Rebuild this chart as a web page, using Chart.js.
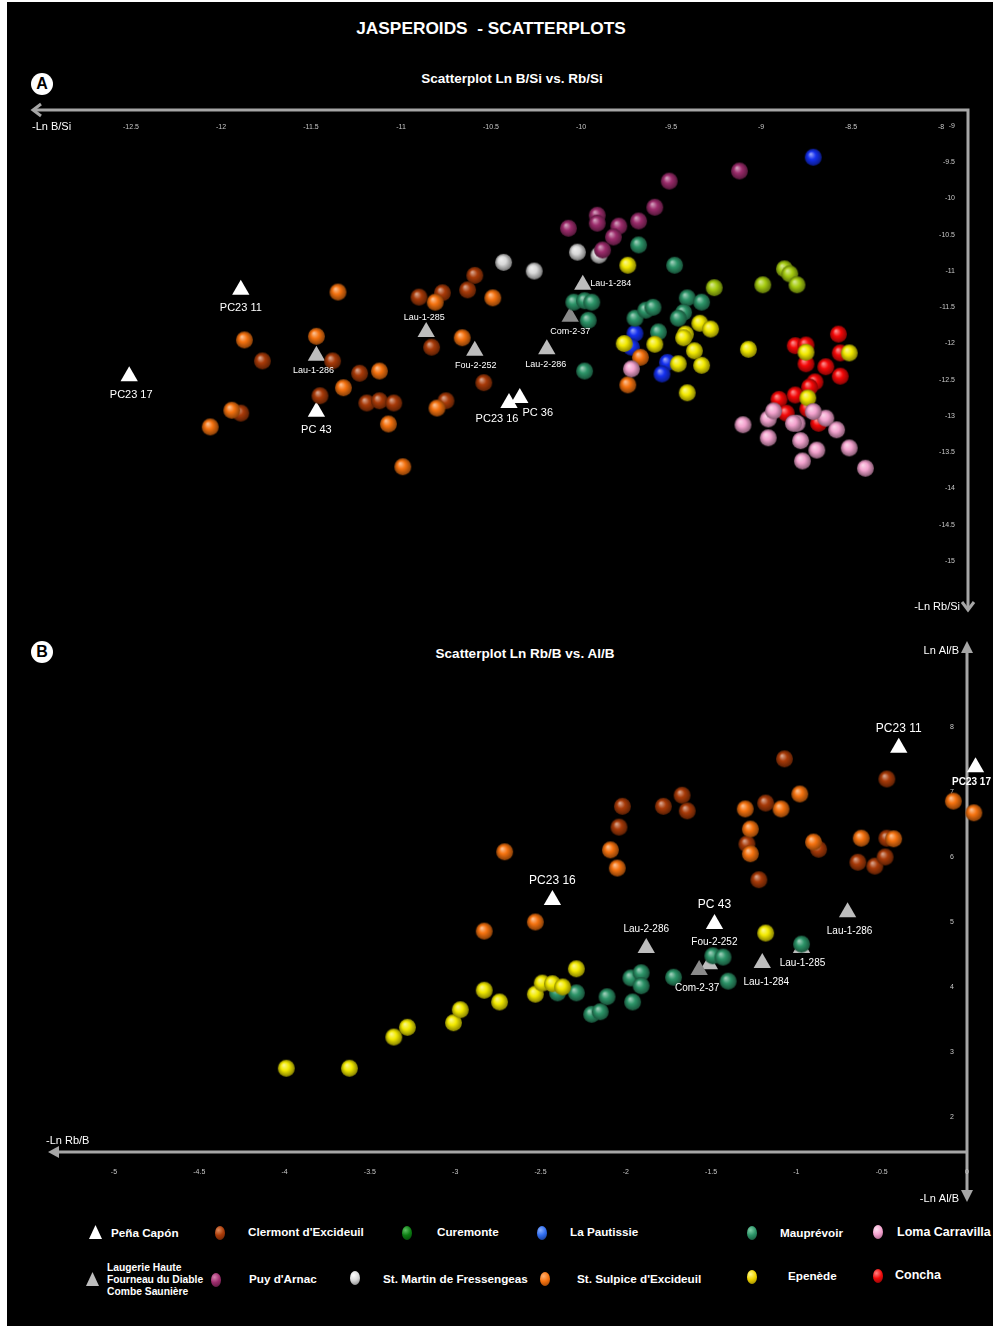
<!DOCTYPE html>
<html lang="en">
<head>
  <meta charset="UTF-8">
  <title>Jasperoids - Scatterplots</title>
  <script src="https://cdn.jsdelivr.net/npm/chart.js"></script>
  <style>
    body { margin: 0; background: #fff; font-family: "Liberation Sans", Arial, sans-serif; }
    #frame { position: absolute; left: 7px; top: 2px; width: 986px; height: 1324px; background: #000; }
    .abs { position: absolute; color: #fff; font-weight: bold; white-space: pre; }
    .title { left: 0; width: 982px; text-align: center; }
    .badge { width: 22px; height: 22px; border-radius: 50%; background: #fff; color: #000;
             font-size: 16px; line-height: 22px; text-align: center; }
    .ball { position: absolute; width: 10px; height: 14px; border-radius: 50%; }
    .tri { position: absolute; width: 13px; height: 14px; clip-path: polygon(50% 0, 100% 100%, 0 100%); }
    .leg { font-size: 11.7px; line-height: 14px; }
    canvas { position: absolute; left: 0; }
  </style>
</head>
<body>
  <div id="frame"></div>
  <div class="abs title" style="top:18px; font-size:17.3px;">JASPEROIDS  - SCATTERPLOTS</div>

  <div class="abs badge" style="left:31px; top:73px;">A</div>
  <div class="abs" style="left:0; width:1024px; text-align:center; top:71px; font-size:13.5px;">Scatterplot Ln B/Si vs. Rb/Si</div>
  <div class="abs badge" style="left:31px; top:641px;">B</div>
  <div class="abs" style="left:0; width:1050px; text-align:center; top:646px; font-size:13.5px;">Scatterplot Ln Rb/B vs. Al/B</div>

  <canvas id="chartA" width="995" height="540" style="top:90px;"></canvas>
  <canvas id="chartB" width="995" height="590" style="top:630px;"></canvas>

  <!-- legend row 1 -->
  <div class="tri" style="left:89px; top:1225px; background:#fff;"></div>
  <div class="abs leg" style="left:111px; top:1226px;">Peña Capón</div>
  <div class="ball" style="left:215px; top:1226px; background:radial-gradient(circle at 35% 30%, #e08a5a, #a83a08 45%, #5a1e04);"></div>
  <div class="abs leg" style="left:248px; top:1225px;">Clermont d'Excideuil</div>
  <div class="ball" style="left:402px; top:1226px; background:radial-gradient(circle at 35% 30%, #5cc060, #0b7d12 45%, #053d08);"></div>
  <div class="abs leg" style="left:437px; top:1225px;">Curemonte</div>
  <div class="ball" style="left:537px; top:1226px; background:radial-gradient(circle at 35% 30%, #8ab0ff, #2f6df0 45%, #12307a);"></div>
  <div class="abs leg" style="left:570px; top:1225px;">La Pautissie</div>
  <div class="ball" style="left:747px; top:1226px; background:radial-gradient(circle at 35% 30%, #7fcfa8, #2c9468 45%, #144a33);"></div>
  <div class="abs leg" style="left:780px; top:1226px;">Mauprévoir</div>
  <div class="ball" style="left:873px; top:1225px; background:radial-gradient(circle at 35% 30%, #fde0ef, #f4a3cf 45%, #a05a80);"></div>
  <div class="abs leg" style="left:897px; top:1225px; font-size:12.5px;">Loma Carravilla</div>

  <!-- legend row 2 -->
  <div class="tri" style="left:86px; top:1272px; background:#bdbdbd;"></div>
  <div class="abs" style="left:107px; top:1262px; font-size:10.3px; line-height:12px;">Laugerie Haute
Fourneau du Diable
Combe Saunière</div>
  <div class="ball" style="left:211px; top:1273px; background:radial-gradient(circle at 35% 30%, #d880b0, #9c2c6c 45%, #4e1636);"></div>
  <div class="abs leg" style="left:249px; top:1272px;">Puy d'Arnac</div>
  <div class="ball" style="left:350px; top:1271px; background:radial-gradient(circle at 35% 30%, #ffffff, #d9d9d9 45%, #7a7a7a);"></div>
  <div class="abs leg" style="left:383px; top:1272px;">St. Martin de Fressengeas</div>
  <div class="ball" style="left:540px; top:1272px; background:radial-gradient(circle at 35% 30%, #ffb070, #f5720f 45%, #8a3c05);"></div>
  <div class="abs leg" style="left:577px; top:1272px;">St. Sulpice d'Excideuil</div>
  <div class="ball" style="left:747px; top:1270px; background:radial-gradient(circle at 35% 30%, #fffa90, #f0d400 45%, #8a7a00);"></div>
  <div class="abs leg" style="left:788px; top:1269px;">Epenède</div>
  <div class="ball" style="left:873px; top:1269px; background:radial-gradient(circle at 35% 30%, #ff8080, #f00a0a 45%, #7a0505);"></div>
  <div class="abs leg" style="left:895px; top:1268px; font-size:12.5px;">Concha</div>

  <script>
    // ---------- tick labels ----------
    const ticksAX = [-12.5, -12, -11.5, -11, -10.5, -10, -9.5, -9, -8.5, -8];
    const ticksAY = [-9, -9.5, -10, -10.5, -11, -11.5, -12, -12.5, -13, -13.5, -14, -14.5, -15];
    const ticksBX = [-5, -4.5, -4, -3.5, -3, -2.5, -2, -1.5, -1, -0.5, 0];
    const ticksBY = [2, 3, 4, 5, 6, 7, 8];

    // ---------- A: Ln B/Si (x) vs Ln Rb/Si (y) ----------
    const penaA = [
      {name: 'PC23 11', x: -11.89, y: -11.26},
      {name: 'PC23 17', x: -12.51, y: -12.45},
      {name: 'PC 43', x: -11.47, y: -12.94},
      {name: 'PC23 16', x: -10.40, y: -12.82},
      {name: 'PC 36', x: -10.34, y: -12.75}
    ];
    const laugerieA = [
      {name: 'Lau-1-286', x: -11.47, y: -12.17},
      {name: 'Lau-1-285', x: -10.86, y: -11.84},
      {name: 'Fou-2-252', x: -10.59, y: -12.10},
      {name: 'Lau-2-286', x: -10.19, y: -12.08},
      {name: 'Com-2-37', x: -10.06, y: -11.63},
      {name: 'Lau-1-284', x: -9.99, y: -11.19}
    ];
    const clermontA = [[-11.77,-12.24],[-11.89,-12.96],[-11.38,-12.24],[-11.23,-12.41],[-11.45,-12.72],[-11.19,-12.82],
      [-11.12,-12.79],[-11.04,-12.82],[-10.90,-11.36],[-10.77,-11.30],[-10.59,-11.06],[-10.63,-11.26],[-10.83,-12.05],
      [-10.54,-12.54],[-10.75,-12.79]];
    const sulpiceA = [[-11.35,-11.29],[-11.87,-11.95],[-11.47,-11.90],[-11.12,-12.38],[-11.32,-12.61],[-11.94,-12.92],
      [-12.06,-13.15],[-11.07,-13.11],[-10.99,-13.70],[-10.81,-11.43],[-10.49,-11.37],[-10.66,-11.92],[-10.80,-12.89],
      [-9.67,-12.19],[-9.74,-12.57]];
    const martinA = [[-10.43,-10.88],[-10.26,-11.00],[-10.02,-10.74],[-9.90,-10.78]];
    const puyA = [[-9.12,-9.62],[-9.51,-9.76],[-9.59,-10.12],[-9.91,-10.23],[-9.91,-10.34],[-10.07,-10.41],[-9.79,-10.38],
      [-9.68,-10.31],[-9.82,-10.53],[-9.88,-10.71]];
    const pautissieA = [[-8.71,-9.43],[-9.70,-11.86],[-9.72,-12.05],[-9.52,-12.26],[-9.55,-12.42]];
    const mauprevoirA = [[-9.68,-10.64],[-9.48,-10.92],[-10.04,-11.43],[-9.98,-11.41],[-9.94,-11.43],[-9.96,-11.68],
      [-9.70,-11.65],[-9.64,-11.54],[-9.60,-11.50],[-9.41,-11.37],[-9.33,-11.43],[-9.43,-11.57],[-9.46,-11.65],
      [-9.57,-11.84],[-9.98,-12.38]];
    const epenedeA = [[-9.74,-10.92],[-9.34,-11.72],[-9.28,-11.80],[-9.42,-11.87],[-9.43,-11.92],[-9.07,-12.08],
      [-9.37,-12.10],[-9.59,-12.01],[-9.46,-12.28],[-9.33,-12.30],[-9.41,-12.68],[-8.75,-12.12],[-8.51,-12.13],
      [-8.74,-12.75],[-9.76,-12.00]];
    const curemonteA = [[-9.26,-11.23],[-8.99,-11.19],[-8.87,-10.97],[-8.84,-11.04],[-8.80,-11.19]];
    const lomaA = [[-9.72,-12.35],[-9.10,-13.12],[-8.96,-13.04],[-8.93,-12.93],[-8.96,-13.30],[-8.80,-13.10],
      [-8.78,-13.34],[-8.77,-13.62],[-8.69,-13.47],[-8.64,-13.03],[-8.58,-13.19],[-8.51,-13.44],[-8.42,-13.72],
      [-8.71,-12.94],[-8.82,-13.10]];
    const conchaA = [[-8.57,-11.87],[-8.81,-12.03],[-8.75,-12.02],[-8.75,-12.28],[-8.64,-12.32],[-8.56,-12.45],
      [-8.56,-12.13],[-8.70,-12.53],[-8.73,-12.60],[-8.81,-12.71],[-8.90,-12.77],[-8.86,-12.96],[-8.74,-12.90],
      [-8.68,-13.10]];

    // ---------- B: Ln Rb/B (x) vs Ln Al/B (y) ----------
    const penaB = [
      {name: 'PC23 11', x: -0.40, y: 7.68},
      {name: 'PC23 17', x: 0.05, y: 7.38},
      {name: 'PC23 16', x: -2.43, y: 5.34},
      {name: 'PC 43', x: -1.48, y: 4.97}
    ];
    const laugerieB = [
      {name: 'Lau-2-286', x: -1.88, y: 4.60},
      {name: 'Fou-2-252', x: -1.51, y: 4.35},
      {name: 'Com-2-37', x: -1.57, y: 4.26},
      {name: 'Lau-1-284', x: -1.20, y: 4.37},
      {name: 'Lau-1-285', x: -0.97, y: 4.60},
      {name: 'Lau-1-286', x: -0.70, y: 5.15}
    ];
    const epenedeB = [[-3.99,2.75],[-3.62,2.75],[-3.36,3.23],[-3.28,3.38],[-3.01,3.45],[-2.97,3.65],[-2.83,3.95],
      [-2.74,3.77],[-2.53,3.89],[-2.49,4.06],[-2.43,4.05],[-2.37,4.00],[-2.29,4.28],[-1.18,4.83]];
    const mauprevoirB = [[-2.40,3.91],[-2.29,3.91],[-2.11,3.85],[-2.20,3.58],[-2.15,3.62],[-1.97,4.14],[-1.91,4.22],
      [-1.91,4.02],[-1.96,3.77],[-1.72,4.15],[-1.49,4.48],[-1.43,4.46],[-1.40,4.09],[-0.97,4.66]];
    const sulpiceB = [[-2.71,6.08],[-2.09,6.11],[-2.05,5.83],[-2.83,4.86],[-2.53,5.00],[-0.98,6.97],[-1.30,6.74],
      [-1.09,6.74],[-1.27,6.43],[-1.27,6.05],[-0.90,6.23],[-0.62,6.29],[-0.43,6.28],[-0.08,6.86],[0.04,6.68]];
    const clermontB = [[-1.07,7.51],[-0.47,7.20],[-2.02,6.78],[-2.04,6.46],[-1.78,6.78],[-1.67,6.95],[-1.64,6.71],
      [-1.18,6.83],[-1.29,6.20],[-1.22,5.65],[-0.87,6.12],[-0.64,5.92],[-0.54,5.86],[-0.48,6.00],[-0.47,6.29]];

    // ---------- colours ----------
    const COL = {
      clermont: '#a83a08', curemonte: '#a6cc10', pautissie: '#1430f0', mauprevoir: '#2c9468',
      loma: '#f4a3cf', puy: '#9c2c6c', martin: '#d9d9d9', sulpice: '#f5720f',
      epenede: '#f3ea00', concha: '#f50808', pena: '#ffffff', laugerie: '#bdbdbd', com: '#8a8a8a'
    };
    const AXIS_GRAY = '#a6a6a6';
    const TICK_GRAY = '#c8c8c8';

    function mix(hex, target, t) {
      const a = parseInt(hex.slice(1), 16), b = parseInt(target.slice(1), 16);
      const ch = s => Math.round(((a >> s) & 255) * (1 - t) + ((b >> s) & 255) * t);
      return `rgb(${ch(16)},${ch(8)},${ch(0)})`;
    }

    // shaded ball used as point style
    function sphere(color, r) {
      const c = document.createElement('canvas');
      const s = Math.ceil(r * 2) + 2;
      c.width = c.height = s;
      const g = c.getContext('2d');
      const grad = g.createRadialGradient(s / 2 - r * 0.3, s / 2 - r * 0.38, r * 0.05, s / 2, s / 2, r);
      grad.addColorStop(0, mix(color, '#ffffff', 0.55));
      grad.addColorStop(0.45, color);
      grad.addColorStop(1, mix(color, '#000000', 0.45));
      g.fillStyle = grad;
      g.beginPath();
      g.arc(s / 2, s / 2, r, 0, Math.PI * 2);
      g.fill();
      return c;
    }

    function ballSet(label, pts, color) {
      return {
        label: label,
        data: pts.map(p => ({x: p[0], y: p[1]})),
        pointStyle: sphere(color, 8.5),
        pointRadius: 8.5,
        clip: false
      };
    }

    function triSet(label, pts, color) {
      return {
        label: label,
        data: pts,
        pointStyle: 'triangle',
        pointRadius: 10,
        backgroundColor: c => (c.raw && c.raw.name === 'Com-2-37') ? COL.com : color,
        borderWidth: 0,
        clip: false
      };
    }

    // label offsets (px from the triangle) and font sizes
    const labelPosA = {
      'PC23 11': [0, 18, 11], 'PC23 17': [2, 19, 11], 'PC 43': [0, 18, 11], 'PC23 16': [-12, 16, 11],
      'PC 36': [18, 15, 11], 'Lau-1-286': [-3, 15, 9], 'Lau-1-285': [-2, -14, 9], 'Fou-2-252': [1, 15, 9],
      'Lau-2-286': [-1, 15, 9], 'Com-2-37': [0, 15, 9], 'Lau-1-284': [28, -1, 9]
    };
    const labelPosB = {
      'PC23 11': [0, -19, 12], 'PC23 17': [-4, 15, 10, true], 'PC23 16': [0, -19, 12], 'PC 43': [0, -19, 12],
      'Lau-2-286': [0, -19, 10], 'Fou-2-252': [5, -22, 10], 'Com-2-37': [-2, 18, 10], 'Lau-1-284': [4, 19, 10],
      'Lau-1-285': [1, 15, 10], 'Lau-1-286': [2, 19, 10]
    };

    function drawNames(chart, posMap) {
      const ctx = chart.ctx;
      ctx.save();
      ctx.fillStyle = '#ffffff';
      ctx.textAlign = 'center';
      ctx.textBaseline = 'middle';
      chart.data.datasets.forEach((ds, i) => {
        const meta = chart.getDatasetMeta(i);
        ds.data.forEach((d, j) => {
          if (!d.name || !posMap[d.name]) return;
          const [dx, dy, size, bold] = posMap[d.name];
          const el = meta.data[j];
          ctx.font = `${bold ? 'bold ' : ''}${size}px "Liberation Sans", Arial, sans-serif`;
          ctx.fillText(d.name, el.x + dx, el.y + dy);
        });
      });
      ctx.restore();
    }

    function chevron(ctx, pts) {
      ctx.beginPath();
      ctx.moveTo(pts[0][0], pts[0][1]);
      ctx.lineTo(pts[1][0], pts[1][1]);
      ctx.lineTo(pts[2][0], pts[2][1]);
      ctx.stroke();
    }
    function arrowHead(ctx, pts) {
      ctx.beginPath();
      ctx.moveTo(pts[0][0], pts[0][1]);
      ctx.lineTo(pts[1][0], pts[1][1]);
      ctx.lineTo(pts[2][0], pts[2][1]);
      ctx.closePath();
      ctx.fill();
    }

    const axesA = {
      id: 'axesA',
      beforeDatasetsDraw(chart) {
        const {ctx, chartArea: a, scales: {x, y}} = chart;
        ctx.save();
        ctx.strokeStyle = AXIS_GRAY;
        ctx.lineWidth = 3;
        ctx.lineJoin = 'miter';
        ctx.beginPath();
        ctx.moveTo(a.left + 1, a.top);
        ctx.lineTo(a.right, a.top);
        ctx.lineTo(a.right, a.bottom);
        ctx.stroke();
        chevron(ctx, [[a.left + 9, a.top - 6], [a.left + 1, a.top], [a.left + 9, a.top + 6]]);
        chevron(ctx, [[a.right - 6, a.bottom - 8], [a.right, a.bottom], [a.right + 6, a.bottom - 8]]);

        ctx.fillStyle = TICK_GRAY;
        ctx.font = '7px "Liberation Sans", Arial, sans-serif';
        ctx.textBaseline = 'middle';
        ctx.textAlign = 'center';
        ticksAX.forEach(v => ctx.fillText(String(v), x.getPixelForValue(v), a.top + 17));
        ctx.textAlign = 'right';
        ticksAY.forEach(v => ctx.fillText(String(v), a.right - 13, y.getPixelForValue(v)));

        ctx.fillStyle = '#ffffff';
        ctx.font = '11px "Liberation Sans", Arial, sans-serif';
        ctx.textAlign = 'left';
        ctx.fillText('-Ln B/Si', a.left, a.top + 17);
        ctx.textAlign = 'right';
        ctx.fillText('-Ln Rb/Si', a.right - 8, a.bottom - 3);
        ctx.restore();
      },
      afterDatasetsDraw(chart) { drawNames(chart, labelPosA); }
    };

    const axesB = {
      id: 'axesB',
      beforeDatasetsDraw(chart) {
        const {ctx, chartArea: a, scales: {x, y}} = chart;
        ctx.save();
        ctx.strokeStyle = AXIS_GRAY;
        ctx.fillStyle = AXIS_GRAY;
        ctx.lineWidth = 3;
        ctx.beginPath();
        ctx.moveTo(a.left + 6, a.bottom);
        ctx.lineTo(a.right, a.bottom);
        ctx.moveTo(a.right, a.top + 6);
        ctx.lineTo(a.right, a.bottom + 42);
        ctx.stroke();
        arrowHead(ctx, [[a.left - 2, a.bottom], [a.left + 9, a.bottom - 6], [a.left + 9, a.bottom + 6]]);
        arrowHead(ctx, [[a.right, a.top - 4], [a.right - 6, a.top + 8], [a.right + 6, a.top + 8]]);
        arrowHead(ctx, [[a.right, a.bottom + 50], [a.right - 6, a.bottom + 38], [a.right + 6, a.bottom + 38]]);

        ctx.fillStyle = TICK_GRAY;
        ctx.font = '7px "Liberation Sans", Arial, sans-serif';
        ctx.textBaseline = 'middle';
        ctx.textAlign = 'center';
        ticksBX.forEach(v => ctx.fillText(String(v), x.getPixelForValue(v), a.bottom + 20));
        ctx.textAlign = 'right';
        ticksBY.forEach(v => ctx.fillText(String(v), a.right - 13, y.getPixelForValue(v)));

        ctx.fillStyle = '#ffffff';
        ctx.font = '11px "Liberation Sans", Arial, sans-serif';
        ctx.textAlign = 'left';
        ctx.fillText('-Ln Rb/B', a.left - 4, a.bottom - 11);
        ctx.textAlign = 'right';
        ctx.fillText('Ln Al/B', a.right - 8, a.top + 6);
        ctx.fillText('-Ln Al/B', a.right - 8, a.bottom + 47);
        ctx.restore();
      },
      afterDatasetsDraw(chart) { drawNames(chart, labelPosB); }
    };

    function baseOptions(xr, yr, pad) {
      return {
        responsive: false,
        animation: false,
        events: [],
        layout: { padding: pad },
        plugins: { legend: { display: false }, tooltip: { enabled: false } },
        scales: {
          x: { type: 'linear', min: xr[0], max: xr[1], display: false },
          y: { type: 'linear', min: yr[0], max: yr[1], display: false }
        }
      };
    }

    // first dataset is drawn on top
    new Chart(document.getElementById('chartA'), {
      type: 'scatter',
      data: {
        datasets: [
          ballSet('Loma Carravilla', lomaA, COL.loma),
          ballSet('Epenède', epenedeA, COL.epenede),
          ballSet("St. Sulpice d'Excideuil", sulpiceA, COL.sulpice),
          ballSet('Mauprévoir', mauprevoirA, COL.mauprevoir),
          ballSet('La Pautissie', pautissieA, COL.pautissie),
          ballSet('Concha', conchaA, COL.concha),
          ballSet("Puy d'Arnac", puyA, COL.puy),
          ballSet('St. Martin de Fressengeas', martinA, COL.martin),
          ballSet("Clermont d'Excideuil", clermontA, COL.clermont),
          ballSet('Curemonte', curemonteA, COL.curemonte),
          triSet('Laugerie Haute / Fourneau du Diable / Combe Saunière', laugerieA, COL.laugerie),
          triSet('Peña Capón', penaA, COL.pena)
        ]
      },
      options: baseOptions([-13.05, -7.85], [-15.676, -8.779], {left: 32, right: 27, top: 20, bottom: 20}),
      plugins: [axesA]
    });

    new Chart(document.getElementById('chartB'), {
      type: 'scatter',
      data: {
        datasets: [
          ballSet('Epenède', epenedeB, COL.epenede),
          ballSet('Mauprévoir', mauprevoirB, COL.mauprevoir),
          ballSet("St. Sulpice d'Excideuil", sulpiceB, COL.sulpice),
          ballSet("Clermont d'Excideuil", clermontB, COL.clermont),
          triSet('Laugerie Haute / Fourneau du Diable / Combe Saunière', laugerieB, COL.laugerie),
          triSet('Peña Capón', penaB, COL.pena)
        ]
      },
      options: baseOptions([-5.375, 0], [1.4615, 9.2615], {left: 50, right: 28, top: 15, bottom: 68}),
      plugins: [axesB]
    });
  </script>
</body>
</html>
